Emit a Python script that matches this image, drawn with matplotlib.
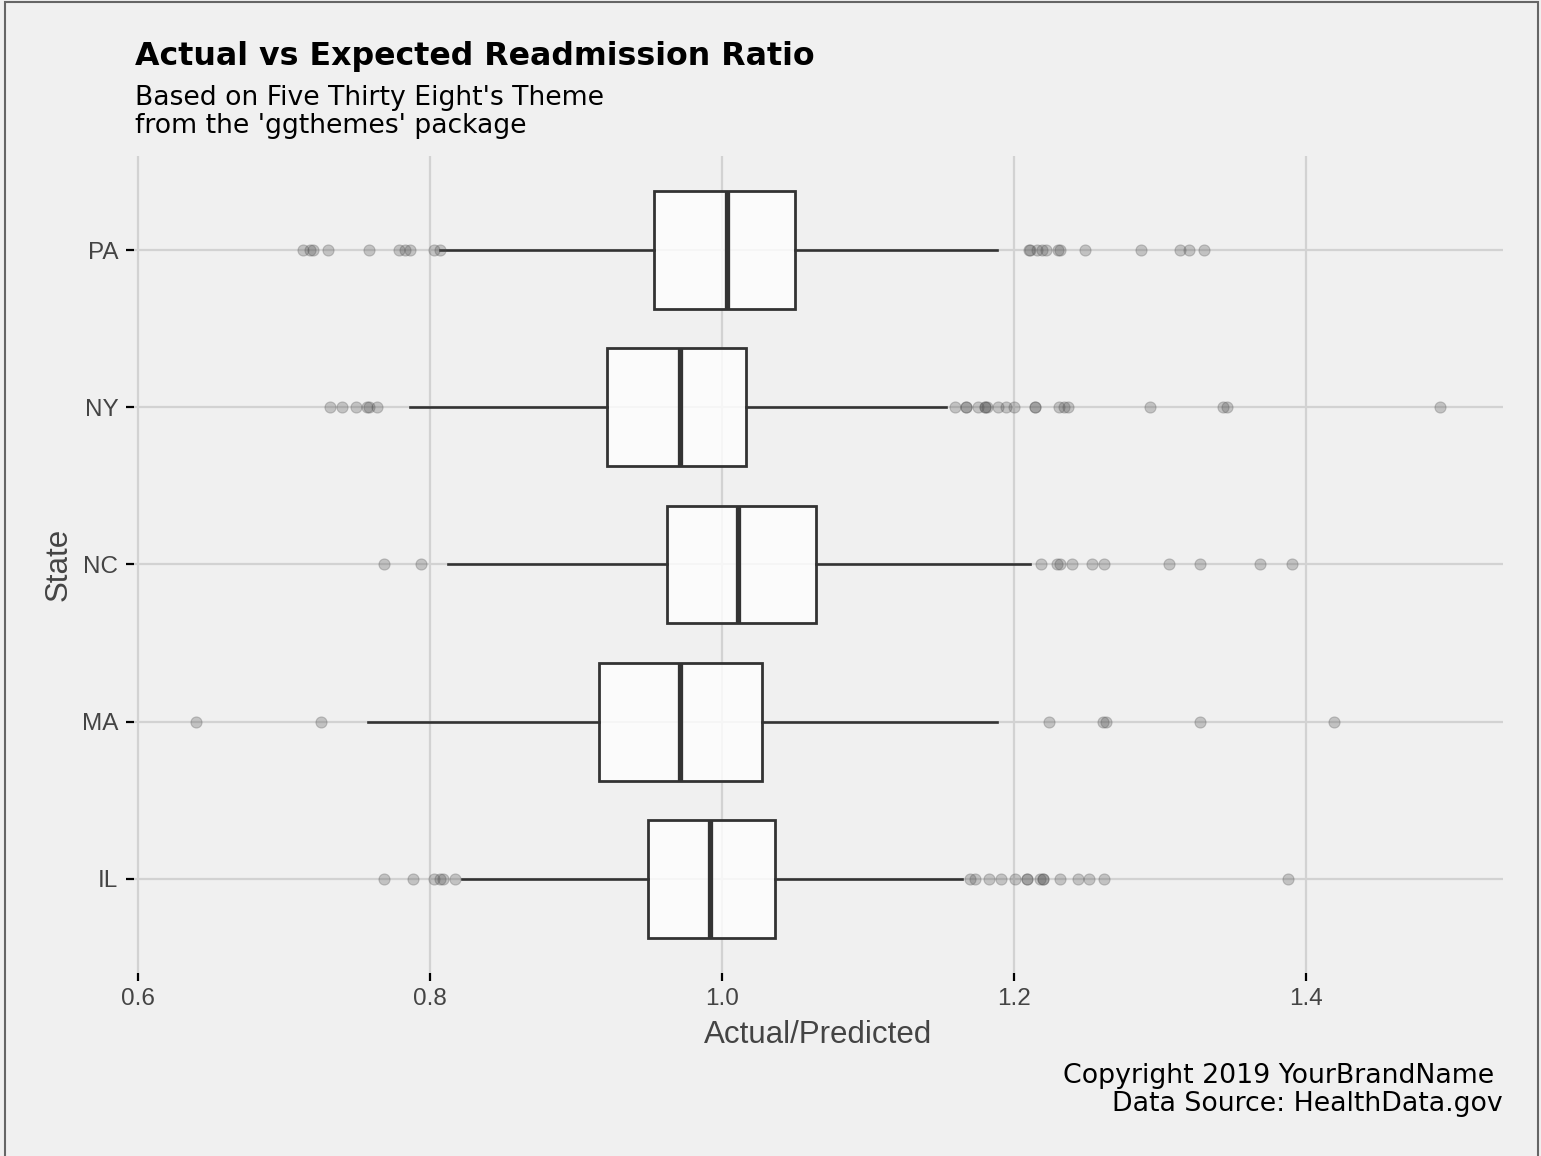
import matplotlib
matplotlib.use("Agg")
import matplotlib.pyplot as plt
from matplotlib.patches import Rectangle

# data (Actual/Predicted readmission ratio)
states = ["IL", "MA", "NC", "NY", "PA"]
whisker_low = [0.822, 0.7575, 0.812, 0.786, 0.807]
q1 = [0.949, 0.916, 0.962, 0.921, 0.953]
median = [0.992, 0.971, 1.011, 0.971, 1.003]
q3 = [1.036, 1.027, 1.064, 1.016, 1.050]
whisker_high = [1.164, 1.188, 1.211, 1.153, 1.188]

outliers_il = [0.7685, 0.788, 0.8027, 0.807, 0.8087, 0.817,
               1.170, 1.1733, 1.1824, 1.191, 1.2007, 1.209, 1.209,
               1.2178, 1.220, 1.220, 1.231, 1.2434, 1.2514, 1.2616, 1.3877]
outliers_ma = [0.640, 0.725, 1.224, 1.261, 1.263, 1.327, 1.419]
outliers_nc = [0.7685, 0.794, 1.2185, 1.2295, 1.231, 1.2397, 1.2534,
               1.2616, 1.306, 1.327, 1.368, 1.390]
outliers_ny = [0.7315, 0.740, 0.749, 0.757, 0.758, 0.7635,
               1.1596, 1.167, 1.167, 1.1755, 1.180, 1.180, 1.181, 1.189,
               1.1945, 1.200, 1.214, 1.214, 1.2303, 1.234, 1.237,
               1.293, 1.343, 1.3457, 1.4918]
outliers_pa = [0.713, 0.718, 0.720, 0.730, 0.758, 0.779, 0.783, 0.786,
               0.803, 0.807, 1.210, 1.211, 1.2155, 1.219, 1.222, 1.230,
               1.231, 1.2486, 1.2868, 1.3137, 1.3194, 1.3297]
outliers = [outliers_il, outliers_ma, outliers_nc, outliers_ny, outliers_pa]

x_ticks = [0.6, 0.8, 1.0, 1.2, 1.4]

bg = "#F0F0F0"
fig = plt.figure(figsize=(15.41, 11.56), dpi=100, facecolor=bg)
fig.patches.append(Rectangle((0.0035, -0.01), 0.9945, 1.008, transform=fig.transFigure,
                             fill=False, edgecolor="#666666", linewidth=1.5))

ax = fig.add_axes([0.0867, 0.1583, 0.8886, 0.7068])
ax.set_facecolor(bg)

stats = []
for i, s in enumerate(states):
    stats.append({
        "label": s, "whislo": whisker_low[i], "q1": q1[i], "med": median[i],
        "q3": q3[i], "whishi": whisker_high[i], "fliers": outliers[i],
    })

ax.bxp(stats, positions=range(1, len(states) + 1), orientation="horizontal",
       widths=0.75, patch_artist=True, showcaps=False, zorder=3,
       boxprops=dict(facecolor=(1, 1, 1, 0.8), edgecolor="#333333", linewidth=2.0),
       medianprops=dict(color="#333333", linewidth=3.8, solid_capstyle="butt"),
       whiskerprops=dict(color="#333333", linewidth=1.9),
       flierprops=dict(marker="o", markersize=8, markerfacecolor="#4D4D4D",
                       markeredgecolor="#4D4D4D", markeredgewidth=0.8, alpha=0.28))

ax.set_xlim(0.597, 1.5346)
ax.set_ylim(0.4, 5.6)
ax.set_xticks(x_ticks)
ax.set_xticklabels([f"{t:.1f}" for t in x_ticks])
ax.set_yticks(range(1, len(states) + 1))
ax.set_yticklabels(states)

ax.grid(True, color="#D2D2D2", linewidth=1.6, zorder=0)
ax.set_axisbelow(True)
for sp in ax.spines.values():
    sp.set_visible(False)
ax.tick_params(axis="both", length=6, width=1.6, color="black",
               labelsize=17.5, labelcolor="#444444", pad=5)
for lab in ax.get_xticklabels() + ax.get_yticklabels():
    lab.set_fontfamily("Liberation Sans")

ax.set_xlabel("Actual/Predicted", fontsize=22.5, color="#444444",
              family="Liberation Sans", labelpad=7)
ax.set_ylabel("State", fontsize=22.5, color="#444444",
              family="Liberation Sans", labelpad=6)

fig.text(0.0876, 0.9515, "Actual vs Expected Readmission Ratio", fontsize=22.8,
         fontweight="bold", family="DejaVu Sans", va="center", ha="left")
fig.text(0.0876, 0.9035, "Based on Five Thirty Eight's Theme\nfrom the 'ggthemes' package",
         fontsize=19.2, family="DejaVu Sans", va="center", ha="left", linespacing=1.1)
fig.text(0.9753, 0.0575, "Copyright 2019 YourBrandName \nData Source: HealthData.gov",
         fontsize=19.3, family="DejaVu Sans", va="center", ha="right",
         multialignment="right", linespacing=1.1)

fig.savefig("out.png", dpi=100, facecolor=bg)
